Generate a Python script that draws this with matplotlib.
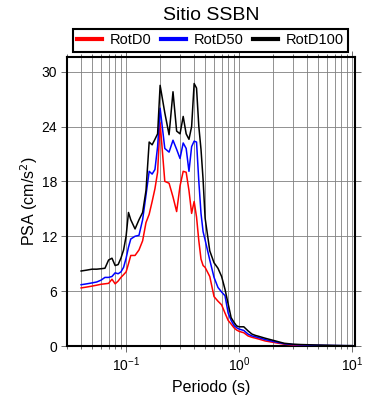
import matplotlib
matplotlib.use("Agg")
import matplotlib.pyplot as plt
from matplotlib.ticker import LogLocator, FixedLocator, NullFormatter

plt.rcParams['font.family'] = ['Liberation Sans', 'DejaVu Sans']

periods = [0.04, 0.045, 0.05, 0.055, 0.06, 0.065, 0.07, 0.075, 0.08, 0.085,
           0.09, 0.095, 0.10, 0.105, 0.11, 0.12, 0.13, 0.14, 0.15, 0.16,
           0.17, 0.18, 0.19, 0.20, 0.22, 0.24, 0.26, 0.28, 0.30, 0.32,
           0.34, 0.36, 0.38, 0.40, 0.42, 0.44, 0.46, 0.48, 0.50, 0.55,
           0.60, 0.65, 0.70, 0.75, 0.80, 0.85, 0.90, 0.95, 1.0, 1.1,
           1.2, 1.3, 1.4, 1.5, 1.7, 2.0, 2.5, 3.0, 3.5, 4.0,
           5.0, 6.0, 7.0, 8.0, 9.0, 10.0]

rotd100 = [8.2, 8.3, 8.4, 8.4, 8.45, 8.5, 9.4, 9.6, 8.8, 8.9,
           9.6, 10.5, 12.0, 14.6, 13.8, 12.8, 13.8, 14.6, 17.0, 22.3,
           22.0, 22.6, 23.2, 28.5, 25.5, 23.1, 27.8, 23.5, 23.2, 25.1,
           23.2, 22.6, 24.0, 28.7, 28.2, 24.0, 21.5, 18.2, 14.0, 10.4,
           9.1, 8.5, 7.6, 6.2, 4.6, 3.1, 2.6, 2.2, 2.1, 2.1,
           1.65, 1.3, 1.15, 1.05, 0.85, 0.62, 0.3, 0.2, 0.16, 0.14,
           0.1, 0.08, 0.06, 0.05, 0.04, 0.04]

rotd50 = [6.7, 6.8, 6.9, 7.0, 7.2, 7.5, 7.5, 7.6, 8.0, 7.9,
          8.1, 8.6, 9.6, 10.8, 11.7, 12.0, 12.1, 13.8, 16.5, 19.1,
          18.8, 19.3, 21.8, 26.0, 21.6, 21.2, 22.5, 21.5, 20.5, 22.2,
          21.6, 19.1, 21.8, 22.4, 22.3, 18.0, 14.5, 12.5, 11.6, 9.4,
          7.5, 6.4, 5.9, 5.5, 3.6, 2.8, 2.25, 2.0, 1.85, 1.7,
          1.3, 1.1, 1.0, 0.9, 0.7, 0.5, 0.25, 0.15, 0.12, 0.1,
          0.08, 0.06, 0.05, 0.04, 0.035, 0.03]

rotd0 = [6.35, 6.45, 6.55, 6.65, 6.75, 6.8, 6.85, 7.3, 6.8, 7.1,
         7.5, 7.8, 8.1, 9.0, 9.9, 9.9, 10.5, 11.5, 13.5, 14.4,
         15.8, 17.2, 19.0, 24.4, 18.0, 17.8, 16.3, 14.7, 17.5, 19.1,
         19.0, 17.0, 14.5, 15.8, 14.1, 11.5, 9.5, 8.8, 8.6, 7.6,
         5.4, 4.9, 4.5, 3.6, 2.8, 2.4, 2.0, 1.75, 1.6, 1.45,
         1.1, 0.95, 0.85, 0.75, 0.55, 0.4, 0.2, 0.1, 0.08, 0.06,
         0.04, 0.03, 0.03, 0.02, 0.02, 0.02]

series = [("RotD0", rotd0, "#ff0000"),
          ("RotD50", rotd50, "#0000ff"),
          ("RotD100", rotd100, "#000000")]
yticks = [0, 6, 12, 18, 24, 30]

fig = plt.figure(figsize=(3.9, 4.0), dpi=100)
ax = fig.add_axes([67/390, 1-346/400, 288/390, 289/400])

for name, vals, col in series:
    ax.plot(periods, vals, color=col, lw=1.1, label=name, zorder=3)

ax.set_xscale('log')
ax.set_xlim(0.03, 10.6)
ax.set_ylim(0, 31.6)
ax.yaxis.set_major_locator(FixedLocator(yticks))
ax.xaxis.set_major_locator(LogLocator(base=10, numticks=10))
ax.xaxis.set_minor_locator(LogLocator(base=10, subs=range(2, 10), numticks=20))
ax.xaxis.set_minor_formatter(NullFormatter())

ax.grid(True, which='both', axis='x', color='#808080', lw=0.6, zorder=1)
ax.grid(True, which='major', axis='y', color='#808080', lw=0.6, zorder=1)

ax.tick_params(which='both', direction='out', top=True, right=True,
               color='#555555', labelsize=10, width=0.6)
ax.tick_params(which='major', length=4, pad=3)
ax.tick_params(which='minor', length=2.5)
for s in ax.spines.values():
    s.set_linewidth(1.5)
    s.set_color('black')

ax.set_xlabel("Periodo (s)", fontsize=11.5, labelpad=4)
ax.set_ylabel("PSA (cm/s$^2$)", fontsize=11.5, labelpad=1)
fig.text(211/390, 1-20/400, "Sitio SSBN", fontsize=14, ha='center', va='baseline')

leg = fig.legend(loc='center', bbox_to_anchor=(73/390, 1-52/400, 275/390, 23/400),
                 mode='expand', ncol=3, fontsize=10.5, frameon=True, fancybox=False,
                 edgecolor='black', framealpha=1, borderaxespad=0,
                 handlelength=1.7, handletextpad=0.5, borderpad=0.3)
leg.get_frame().set_linewidth(1.5)
for line in leg.get_lines():
    line.set_linewidth(3)

fig.savefig("out.png", dpi=100)
